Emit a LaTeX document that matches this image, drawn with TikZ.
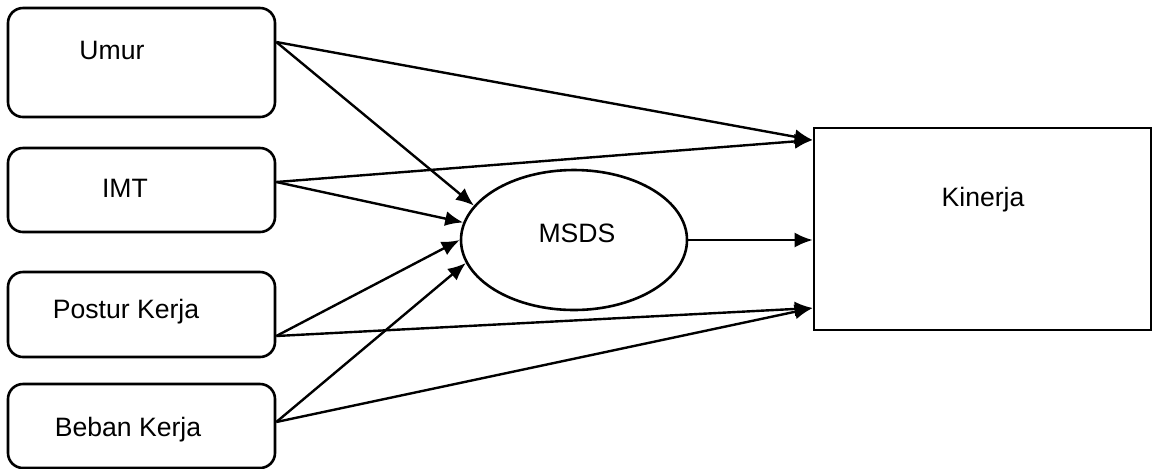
\documentclass[tikz,border=0pt]{standalone}
\usepackage{fontspec}
\setmainfont{Liberation Sans}
\usetikzlibrary{shapes.geometric,arrows.meta}

\tikzset{
  varbox/.style={draw, line width=1.3pt, rounded corners=7.5pt, minimum width=133.5pt, inner sep=0pt},
  txt/.style={font=\fontsize{13.3}{16}\selectfont, inner sep=0pt},
  arr/.style={line width=1.2pt, -{Latex[length=9pt,width=7.5pt]}}
}

\begin{document}
\begin{tikzpicture}[x=0.5pt, y=-0.5pt]
    \useasboundingbox (0,0) rectangle (1156,468);
    % independent variables
    \node[varbox, minimum height=54.5pt] (umur) at (141.5,62.5) {};
    \node[varbox, minimum height=42pt] (imt) at (141.5,190) {};
    \node[varbox, minimum height=42.5pt] (postur) at (141.5,314.5) {};
    \node[varbox, minimum height=42pt] (beban) at (141.5,426) {};
    \node[txt] (umurlbl) at (112,50) {Umur};
    \node[txt] (imtlbl) at (125,188) {IMT};
    \node[txt] (posturlbl) at (126,312) {Postur Kerja};
    \node[txt] (bebanlbl) at (128,430) {Beban Kerja};
    % intervening variable and outcome
    \node[draw, ellipse, line width=1.3pt, minimum width=113pt, minimum height=70pt, inner sep=0pt] (msds) at (574,240) {};
    \node[txt] (msdslbl) at (577,233) {MSDS};
    \node[draw, line width=1.3pt, minimum width=168.5pt, minimum height=101pt, inner sep=0pt] (kin) at (982.5,229) {};
    \node[txt] (kinlbl) at (983,200) {Kinerja};
    % paths
    \draw[arr] (umur.east |- 0,42) -- (kin.west |- 0,140);
    \draw[arr] (umur.east |- 0,42) -- (msds.161);
    \draw[arr] (imt.east |- 0,182) -- (kin.west |- 0,140);
    \draw[arr] (imt.east |- 0,182) -- (msds.171);
    \draw[arr] (postur.east |- 0,336) -- (msds.180);
    \draw[arr] (postur.east |- 0,336) -- (kin.west |- 0,308);
    \draw[arr] (beban.east |- 0,422) -- (msds.192);
    \draw[arr] (beban.east |- 0,422) -- (kin.west |- 0,308);
    \draw[arr] (msds.east) -- (kin.west |- msds.east);
\end{tikzpicture}
\end{document}
